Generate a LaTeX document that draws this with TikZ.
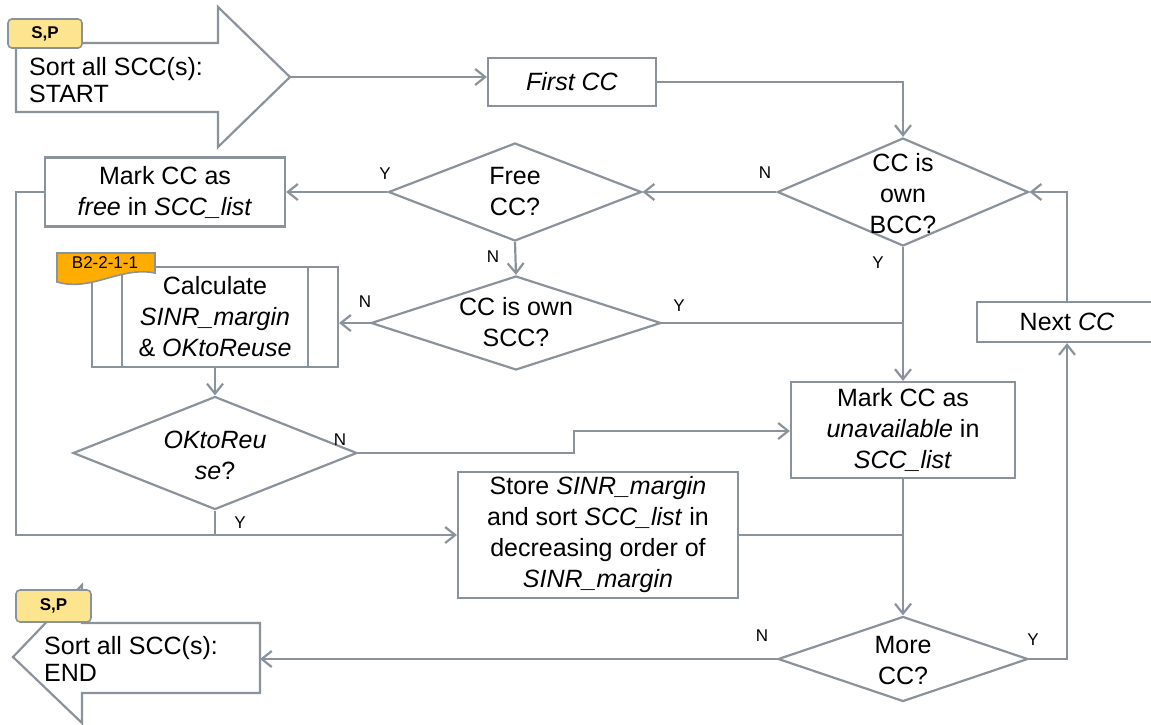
\documentclass[tikz,border=0pt]{standalone}
\usepackage{fontspec}
\setmainfont{Liberation Sans}
\usetikzlibrary{arrows.meta,shapes.geometric,calc}
\definecolor{edge}{HTML}{8A939C}
\definecolor{tagyellow}{HTML}{FDE590}
\definecolor{tagorange}{HTML}{FFAD00}
\newcommand\bodyfont{\fontsize{25}{31}\selectfont}
\newcommand\termfont{\fontsize{25}{27}\selectfont}
\begin{document}
\begin{tikzpicture}[x=1pt,y=-1pt,
  box/.style={draw=edge, line width=2.2pt, fill=white, align=center, inner sep=0pt, font=\bodyfont},
  dia/.style={draw=edge, diamond, line width=2.2pt, inner sep=0pt, fill=white},
  dtext/.style={align=center, inner sep=0pt, font=\bodyfont},
  lbl/.style={inner sep=0pt, font=\fontsize{17}{20}\selectfont},
  flow/.style={draw=edge, line width=2.2pt, -{Straight Barb[length=10pt,width=16pt]}},
  link/.style={draw=edge, line width=2.2pt},
  term/.style={draw=edge, line width=2.2pt, fill=white, line join=miter},
  tagbox/.style={draw=edge, line width=1.6pt, fill=tagyellow, rounded corners=4pt, inner sep=0pt,
    font=\fontsize{17}{20}\selectfont\bfseries}]
\useasboundingbox (0,0) rectangle (1151,724);

% start terminal
\draw[term] (16,43) -- (218,43) -- (218,7) -- (290,77) -- (218,147) -- (218,112) -- (16,112) -- cycle;
\coordinate (starttip) at (290,77);
\node[anchor=base west, align=left, inner sep=0pt, font=\termfont] (starttext) at (29,102) {Sort all SCC(s):\\START};
\node[tagbox, minimum width=74pt, minimum height=29pt] (starttag) at (45,33.5) {S,P};

% end terminal
\draw[term] (82,623) -- (260,623) -- (260,693) -- (82,693) -- (82,723) -- (13,657) -- (82,585) -- cycle;
\coordinate (endtip) at (260,659);
\node[anchor=base west, align=left, inner sep=0pt, font=\termfont] (endtext) at (44,681) {Sort all SCC(s):\\END};
\node[tagbox, minimum width=75pt, minimum height=32pt] (endtag) at (53.5,606) {S,P};

% process boxes
\node[box, minimum width=168pt, minimum height=48pt] (first) at (572,82) {\textit{First CC}};
\node[box, minimum width=240pt, minimum height=69pt] (markfree) at (165,192) {Mark CC as\\\textit{free} in \textit{SCC\_list}};
\node[box, minimum width=246pt, minimum height=100pt] (calc) at (215,317) {Calculate\\\textit{SINR\_margin}\\\& \textit{OKtoReuse}};
\draw[link] ($(calc.north west)+(31,0)$) -- ($(calc.south west)+(31,0)$);
\draw[link] ($(calc.north east)+(-31,0)$) -- ($(calc.south east)+(-31,0)$);
\draw[draw=edge, line width=1.6pt, fill=tagorange] (57,253) -- (155,253) -- (155,273)
  .. controls (120,266) and (92,292) .. (57,282) -- cycle;
\node[inner sep=0pt, font=\fontsize{17}{20}\selectfont] (calctag) at (105,263) {B2-2-1-1};
\node[box, minimum width=224pt, minimum height=96pt] (unavail) at (903,430) {Mark CC as\\\textit{unavailable} in\\\textit{SCC\_list}};
\node[box, minimum width=280pt, minimum height=126pt] (store) at (598,535) {Store \textit{SINR\_margin}\\and sort \textit{SCC\_list} in\\decreasing order of\\\textit{SINR\_margin}};
\node[box, minimum width=180pt, minimum height=40pt] (next) at (1067,322) {Next \textit{CC}};

% decisions
\node[dia, minimum width=251pt, minimum height=108pt] (bcc) at (903,192) {};
\node[dtext] (bcctext) at (903,194) {CC is\\own\\BCC?};
\node[dia, minimum width=253pt, minimum height=98pt] (free) at (515,192) {};
\node[dtext] (freetext) at (515,192) {Free\\CC?};
\node[dia, minimum width=290pt, minimum height=94pt] (ownscc) at (516,323) {};
\node[dtext] (ownscctext) at (516,322) {CC is own\\SCC?};
\node[dia, minimum width=284pt, minimum height=113pt] (reuse) at (215,453) {};
\node[dtext] (reusetext) at (215,455) {\textit{OKtoReu}\\\textit{se}?};
\node[dia, minimum width=250pt, minimum height=85pt] (more) at (903,659) {};
\node[dtext] (moretext) at (903,661) {More\\CC?};

% connectors
\draw[flow] (starttip) -- (starttip -| first.west);
\draw[flow] (first.east) -| (bcc.north);
\draw[flow] (bcc.west) -- (free.east);
\draw[flow] (free.west) -- (markfree.east);
\draw[flow] (free.south) -- (ownscc.north);
\draw[flow] (ownscc.west) -- (ownscc.west -| calc.east);
\draw[flow] (calc.south) -- (reuse.north);
\coordinate (jog) at (574,431);
\draw[flow] (reuse.east) -| (jog) -- (jog -| unavail.west);
\draw[flow] (bcc.south) -- (unavail.north);
\draw[link] (ownscc.east) -- (ownscc.east -| bcc.south);
\draw[flow] (unavail.south) -- (more.north);
\draw[link] (store.east) -- (store.east -| unavail.south);
\coordinate (leftrail) at (16,535);
\draw[flow] (markfree.west) -| (leftrail) -- (store.west);
\draw[link] (reuse.south) -- (reuse.south |- store.west);
\draw[flow] (more.west) -- (endtip);
\draw[flow] (more.east) -| (next.south);
\draw[flow] (next.north) |- (bcc.east);

% branch labels
\node[lbl] (ly1) at (385,174) {Y};
\node[lbl] (ln1) at (765,173) {N};
\node[lbl] (ln2) at (493,257) {N};
\node[lbl] (ly2) at (878,263) {Y};
\node[lbl] (ln3) at (365,302) {N};
\node[lbl] (ly3) at (679,306) {Y};
\node[lbl] (ln4) at (340,440) {N};
\node[lbl] (ly4) at (240,523) {Y};
\node[lbl] (ln5) at (762,636) {N};
\node[lbl] (ly5) at (1033,640) {Y};
\end{tikzpicture}
\end{document}
